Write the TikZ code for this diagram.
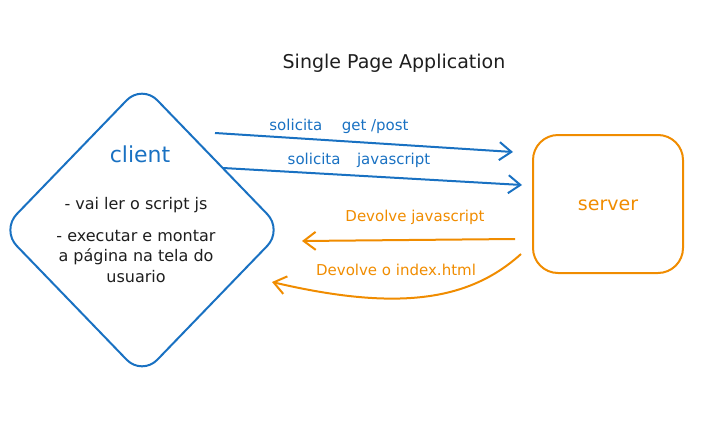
\documentclass[tikz,border=0pt]{standalone}
\usepackage{fontspec}
\setmainfont{DejaVu Sans}
\usetikzlibrary{shapes.geometric,arrows.meta}
\definecolor{cblue}{HTML}{1971C2}
\definecolor{corange}{HTML}{F08C00}
\definecolor{ctext}{HTML}{1E1E1E}
\tikzset{
  x=1pt,y=-1pt,
  conn/.style={line width=2pt,-{Straight Barb[length=12pt,width=18pt,line width=2pt]}},
  lab/.style={font=\fontsize{15}{17}\selectfont},
  body/.style={font=\fontsize{16}{20.5}\selectfont,text=ctext,align=center},
}
\begin{document}
\begin{tikzpicture}
\useasboundingbox (0,0) rectangle (722,439);
\node[font=\fontsize{19}{21}\selectfont,text=ctext] (title) at (394,63) {Single Page Application};
\node[diamond,draw=cblue,line width=2pt,rounded corners=22pt,minimum width=282pt,minimum height=292pt,inner sep=0pt] (client) at (142,230) {};
\node[text=cblue,font=\fontsize{22}{24}\selectfont] (clientlab) at (140,154) {client};
\node[body] (b1) at (136,205) {- vai ler o script js};
\node[body] (b2) at (136,256) {- executar e montar\\a página na tela do\\usuario};
\node[draw=corange,line width=2pt,rounded corners=25pt,minimum width=150pt,minimum height=138pt] (server) at (608,204) {};
\node[text=corange,font=\fontsize{19}{21}\selectfont] (serverlab) at (608,205) {server};
\coordinate (a1s) at (215,133); \coordinate (a1e) at (513,152);
\coordinate (a2s) at (223,168); \coordinate (a2e) at (522,185);
\coordinate (a3s) at (515,239); \coordinate (a3e) at (302,241);
\coordinate (a4s) at (521,254); \coordinate (a4e) at (272,282);
\draw[conn,cblue] (a1s) -- (a1e);
\draw[conn,cblue] (a2s) -- (a2e);
\draw[conn,corange] (a3s) -- (a3e);
\draw[conn,corange] (a4s) .. controls (470,300) and (400,312) .. (a4e);
\node[lab,text=cblue] (l1) at (339,126) {solicita\hspace{1.3em}get /post};
\node[lab,text=cblue] (l2) at (359,160) {solicita\hspace{1.1em}javascript};
\node[lab,text=corange] (l3) at (415,217) {Devolve javascript};
\node[lab,text=corange] (l4) at (396,270) {Devolve o index.html};
\end{tikzpicture}
\end{document}
